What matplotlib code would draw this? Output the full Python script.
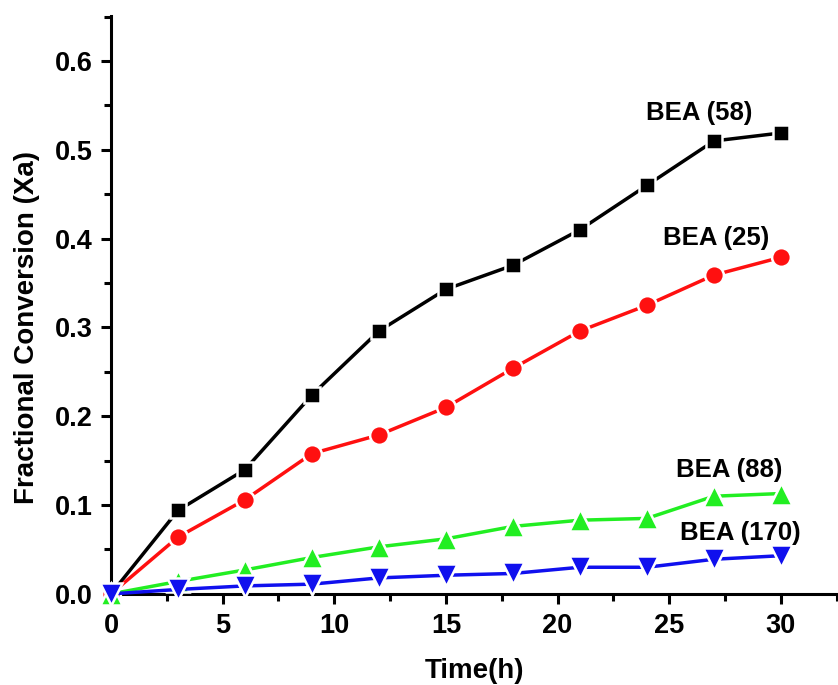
import numpy as np
import matplotlib
matplotlib.use("Agg")
import matplotlib.pyplot as plt
from matplotlib.ticker import MultipleLocator, FormatStrFormatter

plt.rcParams['font.family'] = ['Liberation Sans', 'DejaVu Sans']
plt.rcParams['font.weight'] = 'bold'

# reaction time (h) and fractional conversion for each catalyst
time_h = [0, 3, 6, 9, 12, 15, 18, 21, 24, 27, 30]
bea_58 = [0, 0.094, 0.140, 0.224, 0.296, 0.343, 0.370, 0.410, 0.460, 0.510, 0.519]
bea_25 = [0, 0.064, 0.106, 0.158, 0.179, 0.210, 0.254, 0.296, 0.325, 0.359, 0.379]
bea_88 = [0, 0.014, 0.027, 0.041, 0.053, 0.062, 0.076, 0.083, 0.085, 0.110, 0.113]
bea_170 = [0, 0.005, 0.009, 0.011, 0.018, 0.021, 0.023, 0.030, 0.030, 0.039, 0.043]

series = [
    ("BEA (58)", bea_58, "black", "s", 12, (26.35, 0.542)),
    ("BEA (25)", bea_25, "#ff1010", "o", 13.5, (27.1, 0.401)),
    ("BEA (88)", bea_88, "#22ee22", "^", 15.5, (27.7, 0.140)),
    ("BEA (170)", bea_170, "#1010ee", "v", 15.5, (28.2, 0.069)),
]

fig = plt.figure(figsize=(8.38, 6.85), dpi=100)
ax = fig.add_axes([0.1325, 0.133, 0.8675, 0.844])

for name, vals, color, marker, ms, (tx, ty) in series:
    ax.plot(time_h, vals, color=color, lw=2.5, marker=marker, ms=ms,
            markeredgecolor='white', markeredgewidth=1.8, clip_on=False, zorder=3)
    ax.text(tx, ty, name, ha='center', va='center', fontsize=18.5, fontweight='bold')

ax.set_xlim(0, 32.56)
ax.set_ylim(0, 0.651)
ax.xaxis.set_major_locator(MultipleLocator(5))
ax.xaxis.set_minor_locator(MultipleLocator(2.5))
ax.yaxis.set_major_locator(MultipleLocator(0.1))
ax.yaxis.set_minor_locator(MultipleLocator(0.05))
ax.yaxis.set_major_formatter(FormatStrFormatter('%.1f'))

for side in ('top', 'right'):
    ax.spines[side].set_visible(False)
for side in ('left', 'bottom'):
    ax.spines[side].set_linewidth(2.2)

ax.tick_params(which='major', direction='out', length=7.5, width=2.2, labelsize=19.5, pad=6)
ax.tick_params(which='minor', direction='out', length=5, width=2.2)

ax.set_xlabel("Time(h)", fontsize=20, fontweight='bold', labelpad=14)
ax.set_ylabel("Fractional Conversion (Xa)", fontsize=20, fontweight='bold')
ax.yaxis.set_label_coords(-0.098, 0.46)

fig.savefig("out.png", dpi=100)
